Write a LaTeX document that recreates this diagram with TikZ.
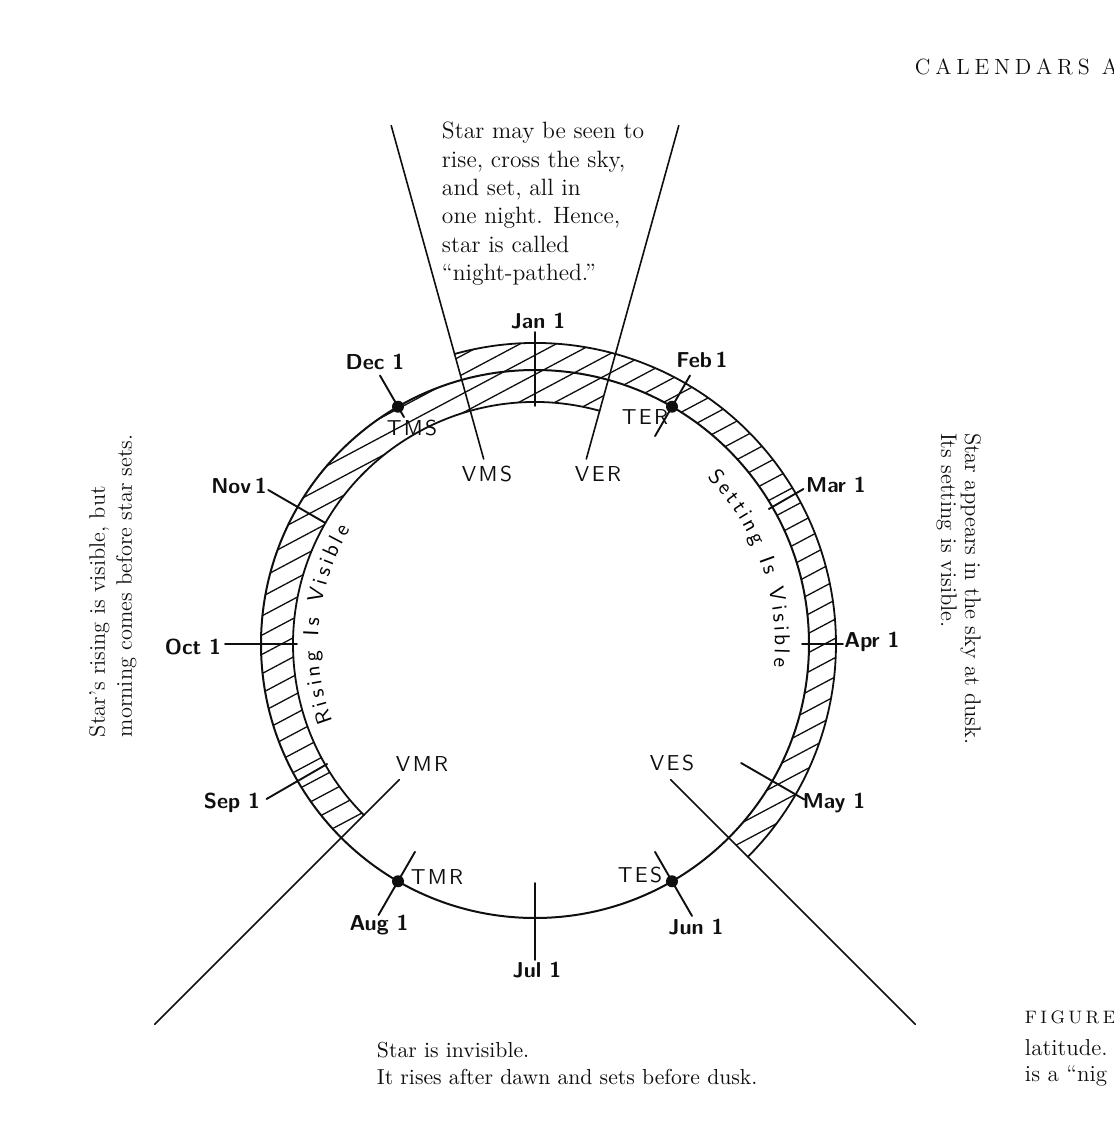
\documentclass[tikz,border=0pt]{standalone}
\usetikzlibrary{calc,decorations.text}
\definecolor{DialInk}{gray}{0.06}
\newcommand\dialspread[2]{\def\dialgap{\kern#1}\edef\dialtmp{#2}\expandafter\dialspreadfirst\dialtmp\relax}
\def\dialspreadfirst#1{#1\dialspreadstep}
\def\dialspreadstep#1{\ifx#1\relax\else\dialgap#1\expandafter\dialspreadstep\fi}
\tikzset{
    dial/diagram/.style={
        x=0.5pt, y=0.5pt,
        draw=DialInk,
        text=DialInk,
        line width=0.9pt,
        line cap=round,
        line join=round,
        every node/.style={inner sep=0pt, outer sep=0pt}
    },
    dial/year/.style={draw=DialInk, line width=1pt},
    dial/band/.style={draw=DialInk, line width=0.9pt},
    dial/hatch/.style={draw=DialInk, line width=0.65pt},
    dial/ray/.style={draw=DialInk, line width=0.8pt},
    dial/tick/.style={draw=DialInk, line width=0.95pt},
    dial/dot/.style={circle, fill=DialInk, draw=none, minimum size=6pt},
    dial/month/.style={font={\fontsize{10.8}{12}\selectfont\sffamily\bfseries}},
    dial/event/.style={font={\fontsize{10.8}{12}\selectfont\sffamily}},
    dial/note/.style={align=left, font={\fontsize{11.8}{14.2}\selectfont}},
    dial/header/.style={font={\fontsize{11}{13}\selectfont}},
    dial/caption/.style={font={\fontsize{11.5}{14}\selectfont}},
    dial/arcword/.style={
        decorate,
        decoration={text along path, text align={fit to path},
            text={|\fontsize{10.8}{12}\selectfont\sffamily|#1}}
    }
}

\begin{document}
\begin{tikzpicture}[dial/diagram]
    \clip (-535,-504) rectangle (579,644);

    \begin{scope}
        \clip (105.5:274) arc[start angle=105.5, end angle=-45, radius=274]
            -- (-45:301) arc[start angle=-45, end angle=105.5, radius=301] -- cycle;
        \foreach \k in {-19,...,19}
            \draw[dial/hatch, rotate=28] (-320,\k*17) -- (320,\k*17);
    \end{scope}
    \begin{scope}
        \clip (74.5:274) arc[start angle=74.5, end angle=225, radius=274]
            -- (225:242) arc[start angle=225, end angle=74.5, radius=242] -- cycle;
        \foreach \k in {-19,...,19}
            \draw[dial/hatch, rotate=28] (-320,\k*17) -- (320,\k*17);
    \end{scope}

    \draw[dial/year] (0,0) circle[radius=274];
    \draw[dial/band] (105.5:301) arc[start angle=105.5, end angle=-45, radius=301];
    \draw[dial/band] (74.5:242) arc[start angle=74.5, end angle=225, radius=242];

    \foreach \ang in {105.5,74.5,225,-45}
        \draw[dial/ray] (\ang:192) -- (\ang:538);

    \foreach \m/\ri/\ro in {0/238/312, 1/240/310, 2/270/310, 3/267/308,
        4/238/311, 5/240/314, 6/239/316, 7/240/313, 8/240/310, 9/238/310,
        10/242/308, 11/262/310}
        \draw[dial/tick] ({90-30*\m}:\ri) -- ({90-30*\m}:\ro);

    \foreach \m in {1,5,7,11}
        \node[dial/dot] (dot\m) at ({90-30*\m}:274) {};

    \foreach \name/\px/\py/\txt in {jan/3/323/Jan 1, feb/167/284/Feb\,1,
        mar/301/159/Mar 1, apr/337/2/Apr 1, may/299/-159/May 1,
        jun/161/-283/Jun 1, jul/2/-326/Jul 1, aug/-156/-281/Aug 1,
        sep/-303/-159/Sep 1, oct/-342/-3/Oct 1, nov/-296/158/Nov\,1,
        dec/-160/282/Dec 1}
        \node[dial/month] (\name) at (\px,\py) {\txt};

    \foreach \name/\px/\py/\txt in {tms/-123/216/TMS, ter/110/227/TER,
        tes/105/-231/TES, tmr/-98/-233/TMR, vms/-48/170/VMS, ver/63/170/VER,
        vmr/-113/-120/VMR, ves/137/-119/VES}
        \node[dial/event] (\name) at (\px,\py) {\dialspread{1.2pt}{\txt}};

    \path[dial/arcword=Rising Is Visible]
        (201:217) arc[start angle=201, end angle=148, radius=217];
    \path[dial/arcword=Setting Is Visible]
        (44:240) arc[start angle=44, end angle=-5.5, radius=240];

    \node[dial/note, anchor=north west] (nightpath) at (-93,522)
        {Star may be seen to\\rise, cross the sky,\\and set, all in\\one night. Hence,\\star is called\\“night-pathed.”};
    \node[dial/note, font={\fontsize{10.85}{13.5}\selectfont}, anchor=north west] (invisible) at (-158,-398)
        {Star is invisible.\\It rises after dawn and sets before dusk.};
    \node[dial/note, font={\fontsize{11.2}{13.5}\selectfont}, anchor=north west, rotate=90] (morning) at (-446,-93)
        {Star’s rising is visible, but\\morning comes before star sets.};
    \node[dial/note, font={\fontsize{11.3}{12}\selectfont}, anchor=north west, rotate=-90] (dusk) at (446,211)
        {Star appears in the sky at dusk.\\Its setting is visible.};

    \node[dial/header, anchor=base west] (head) at (380,569)
        {\dialspread{2.4pt}{CALENDARS}\kern2.4pt\ A};
    \node[dial/caption, anchor=base west] (figword) at (490,-379)
        {\fontsize{9}{11}\selectfont\dialspread{1.7pt}{FIGURE}};
    \node[dial/caption, anchor=base west] (latitude) at (490,-411) {latitude.};
    \node[dial/caption, anchor=base west] (nightword) at (490,-437) {is a “nig};
\end{tikzpicture}
\end{document}
